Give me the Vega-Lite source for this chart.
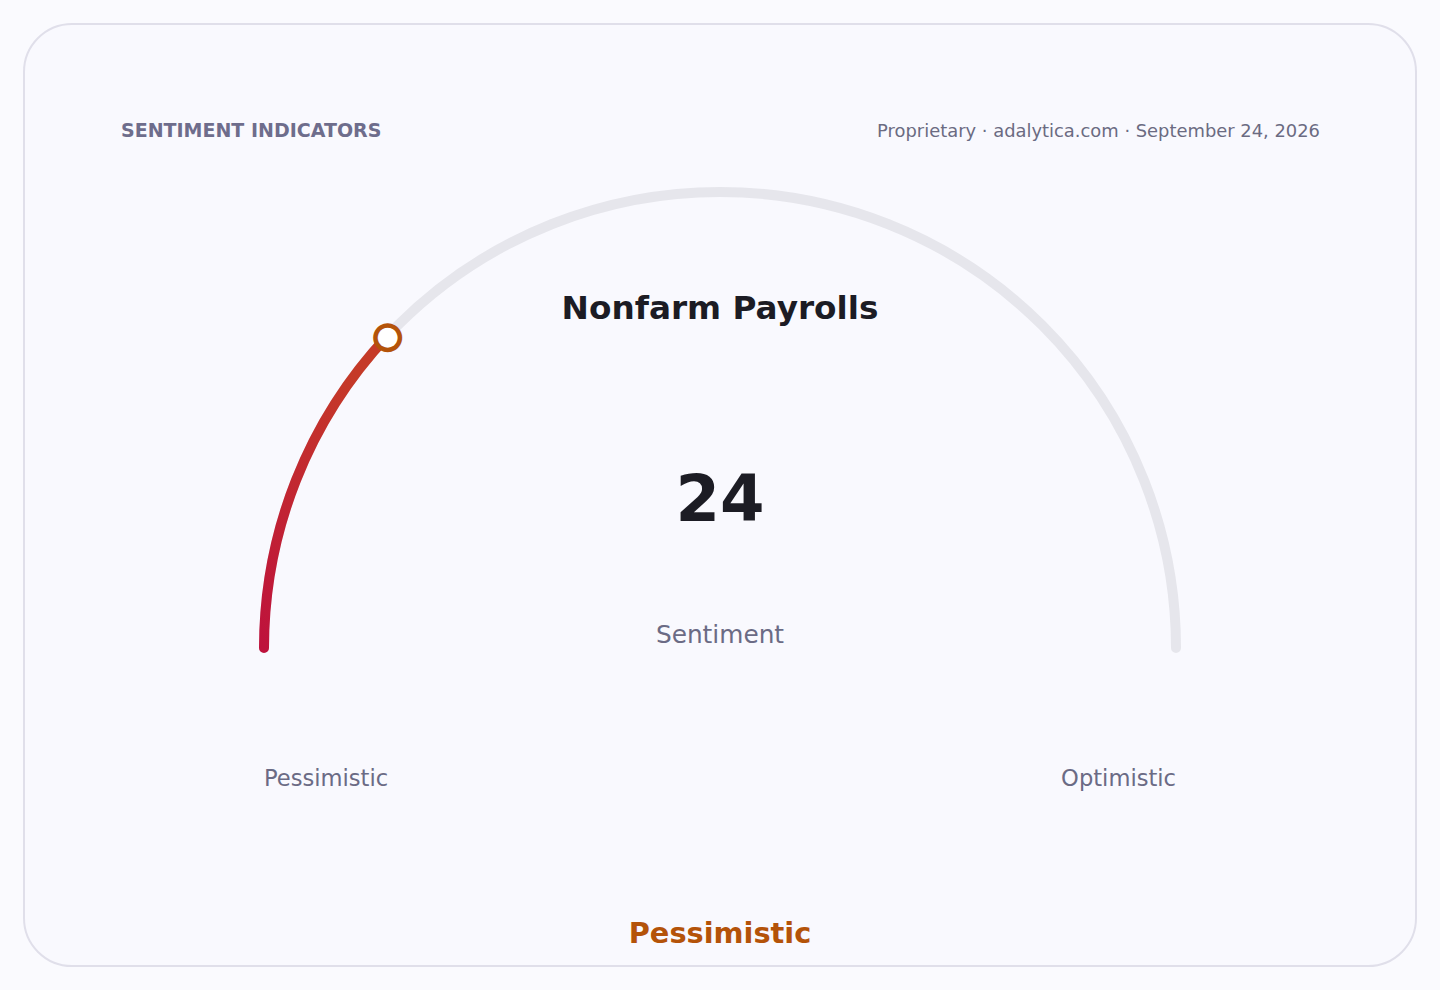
{
  "$schema": "https://vega.github.io/schema/vega-lite/v6.json",
  "width": 1392,
  "height": 942,
  "padding": 24,
  "autosize": "none",
  "background": "#fafafe",
  "config": {
    "font": "DejaVu Sans",
    "view": {"fill": "#f9f9fe", "stroke": "#e0dfea", "strokeWidth": 2, "cornerRadius": 48}
  },
  "data": {
    "values": [
      {"indicator": "Nonfarm Payrolls", "value": 24, "min": 0, "max": 100, "measure": "Sentiment", "reading": "Pessimistic"}
    ]
  },
  "encoding": {
    "x": {"datum": 0, "type": "quantitative", "scale": {"domain": [-1.5263, 1.5263], "nice": false, "zero": false}, "axis": null},
    "y": {"datum": 0, "type": "quantitative", "scale": {"domain": [-0.6974, 1.3684], "nice": false, "zero": false}, "axis": null}
  },
  "layer": [
    {
      "mark": {"type": "arc", "innerRadius": 456, "outerRadius": 456, "filled": false, "stroke": "#e6e6ec", "strokeWidth": 10, "strokeJoin": "round", "strokeCap": "round"},
      "encoding": {
        "theta": {"field": "min", "type": "quantitative", "stack": null, "scale": {"domain": [0, 100], "range": [-1.5708, 1.5708]}},
        "theta2": {"field": "max"}
      }
    },
    {
      "mark": {
        "type": "arc",
        "innerRadius": 456,
        "outerRadius": 456,
        "filled": false,
        "strokeWidth": 10,
        "strokeJoin": "round",
        "strokeCap": "round",
        "stroke": {
          "gradient": "linear",
          "x1": 0, "y1": 1, "x2": 0.4, "y2": 0,
          "stops": [
            {"offset": 0, "color": "#be123c"},
            {"offset": 1, "color": "#c53a28"}
          ]
        }
      },
      "encoding": {
        "theta": {"field": "min", "type": "quantitative", "stack": null, "scale": {"domain": [0, 100], "range": [-1.5708, 1.5708]}},
        "theta2": {"field": "value"}
      }
    },
    {
      "mark": {"type": "text", "text": "●", "radius": 456, "fontSize": 32, "fill": "#ffffff", "stroke": "#b45309", "strokeWidth": 4.5, "align": "center", "baseline": "middle"},
      "encoding": {
        "theta": {"field": "value", "type": "quantitative", "stack": null, "scale": {"domain": [0, 100], "range": [-1.5708, 1.5708]}}
      }
    },
    {
      "mark": {"type": "text", "text": "SENTIMENT INDICATORS", "fontSize": 19, "fontWeight": "bold", "fill": "#6e6d8c", "align": "left", "baseline": "alphabetic"},
      "encoding": {
        "x": {"datum": -1.3136, "type": "quantitative", "scale": {"domain": [-1.5263, 1.5263], "nice": false, "zero": false}, "axis": null},
        "y": {"datum": 1.1213, "type": "quantitative", "scale": {"domain": [-0.6974, 1.3684], "nice": false, "zero": false}, "axis": null}
      }
    },
    {
      "mark": {"type": "text", "text": "Proprietary · adalytica.com · September 24, 2026", "fontSize": 17.9, "fill": "#6b6b82", "align": "right", "baseline": "alphabetic"},
      "encoding": {
        "x": {"datum": 1.3158, "type": "quantitative", "scale": {"domain": [-1.5263, 1.5263], "nice": false, "zero": false}, "axis": null},
        "y": {"datum": 1.1213, "type": "quantitative", "scale": {"domain": [-0.6974, 1.3684], "nice": false, "zero": false}, "axis": null}
      }
    },
    {
      "mark": {"type": "text", "fontSize": 32.7, "fontWeight": "bold", "fill": "#1c1c24", "align": "center", "baseline": "alphabetic"},
      "encoding": {
        "text": {"field": "indicator", "type": "nominal"},
        "y": {"datum": 0.7208, "type": "quantitative", "scale": {"domain": [-0.6974, 1.3684], "nice": false, "zero": false}, "axis": null}
      }
    },
    {
      "mark": {"type": "text", "fontSize": 64, "fontWeight": "bold", "fill": "#1c1c24", "align": "center", "baseline": "alphabetic"},
      "encoding": {
        "text": {"field": "value", "type": "quantitative"},
        "y": {"datum": 0.2785, "type": "quantitative", "scale": {"domain": [-0.6974, 1.3684], "nice": false, "zero": false}, "axis": null}
      }
    },
    {
      "mark": {"type": "text", "fontSize": 24.8, "fill": "#6b6b85", "align": "center", "baseline": "alphabetic"},
      "encoding": {
        "text": {"field": "measure", "type": "nominal"},
        "y": {"datum": 0.011, "type": "quantitative", "scale": {"domain": [-0.6974, 1.3684], "nice": false, "zero": false}, "axis": null}
      }
    },
    {
      "mark": {"type": "text", "text": "Pessimistic", "fontSize": 22.6, "fill": "#6b6b85", "align": "left", "baseline": "alphabetic"},
      "encoding": {
        "x": {"datum": -1, "type": "quantitative", "scale": {"domain": [-1.5263, 1.5263], "nice": false, "zero": false}, "axis": null},
        "y": {"datum": -0.302, "type": "quantitative", "scale": {"domain": [-0.6974, 1.3684], "nice": false, "zero": false}, "axis": null}
      }
    },
    {
      "mark": {"type": "text", "text": "Optimistic", "fontSize": 22.6, "fill": "#6b6b85", "align": "right", "baseline": "alphabetic"},
      "encoding": {
        "x": {"datum": 1, "type": "quantitative", "scale": {"domain": [-1.5263, 1.5263], "nice": false, "zero": false}, "axis": null},
        "y": {"datum": -0.302, "type": "quantitative", "scale": {"domain": [-0.6974, 1.3684], "nice": false, "zero": false}, "axis": null}
      }
    },
    {
      "mark": {"type": "text", "fontSize": 28.8, "fontWeight": "bold", "fill": "#b45309", "align": "center", "baseline": "alphabetic"},
      "encoding": {
        "text": {"field": "reading", "type": "nominal"},
        "y": {"datum": -0.6476, "type": "quantitative", "scale": {"domain": [-0.6974, 1.3684], "nice": false, "zero": false}, "axis": null}
      }
    }
  ]
}
